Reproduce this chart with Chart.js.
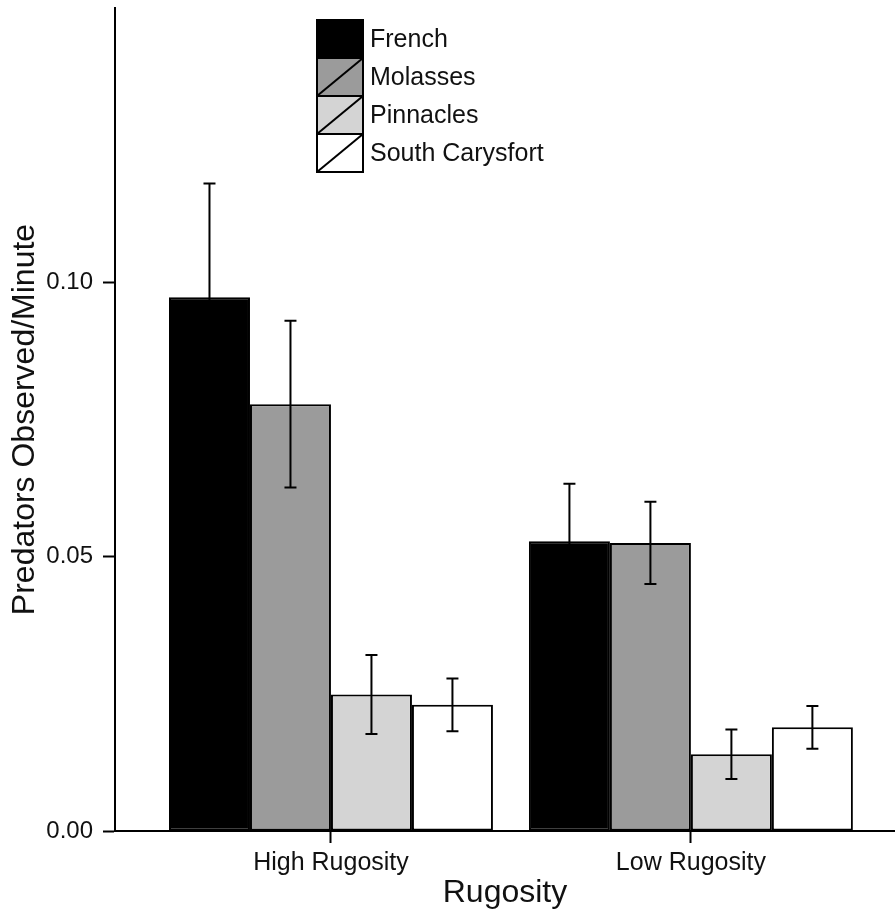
<!DOCTYPE html>
<html>
<head>
<meta charset="utf-8">
<script src="https://cdn.jsdelivr.net/npm/chart.js@4.4.1/dist/chart.umd.min.js"></script>
<style>
  html, body { margin: 0; padding: 0; background: #fff; }
  #wrap { width: 895px; height: 916px; position: relative; }
</style>
</head>
<body>
<div id="wrap"><canvas id="predChart"></canvas></div>
<script>
// Data
const categories = ["High Rugosity", "Low Rugosity"];
const sites = ["French", "Molasses", "Pinnacles", "South Carysfort"];
const french = [0.0973, 0.0528];
const molasses = [0.0778, 0.0525];
const pinnacles = [0.0249, 0.0140];
const southCarysfort = [0.0230, 0.0189];
// standard errors (half the whisker length)
const frenchErr = [0.0207, 0.0105];
const molassesErr = [0.0152, 0.0075];
const pinnaclesErr = [0.0072, 0.0045];
const southCarysfortErr = [0.0048, 0.0039];
const yTicks = [0, 0.05, 0.10];

const FONT = "'Liberation Sans', Arial, Helvetica, sans-serif";
const fills = ["#000000", "#9b9b9b", "#d4d4d4", "#ffffff"];
const seriesValues = [french, molasses, pinnacles, southCarysfort];
const seriesErrors = [frenchErr, molassesErr, pinnaclesErr, southCarysfortErr];

function makeDataset(i) {
    return {
        label: sites[i],
        data: seriesValues[i].map((v, j) => ({ x: j + 1, y: v })),
        errors: seriesErrors[i],
        backgroundColor: fills[i],
        borderColor: "#000",
        borderWidth: 2,
        borderSkipped: false,
        categoryPercentage: 0.9,
        barPercentage: 1.0,
    };
}

// Error bars drawn through the y scale
const errorBars = {
    id: "errorBars",
    afterDatasetsDraw(chart) {
        const ctx = chart.ctx;
        const y = chart.scales.y;
        ctx.save();
        ctx.strokeStyle = "#000";
        ctx.lineWidth = 2;
        chart.data.datasets.forEach((ds, di) => {
            const meta = chart.getDatasetMeta(di);
            meta.data.forEach((bar, i) => {
                const v = ds.data[i].y;
                const e = ds.errors[i];
                const top = y.getPixelForValue(v + e);
                const bot = y.getPixelForValue(v - e);
                const half = 6;
                ctx.beginPath();
                ctx.moveTo(bar.x, top);
                ctx.lineTo(bar.x, bot);
                ctx.moveTo(bar.x - half, top);
                ctx.lineTo(bar.x + half, top);
                ctx.moveTo(bar.x - half, bot);
                ctx.lineTo(bar.x + half, bot);
                ctx.stroke();
            });
        });
        ctx.restore();
    },
};

// Legend box inside the plot, ggplot-style keys with a diagonal stroke
const insideLegend = {
    id: "insideLegend",
    afterDraw(chart) {
        const ctx = chart.ctx;
        const area = chart.chartArea;
        const x0 = area.left + 202;
        const y0 = area.top + 12;
        const w = 46, h = 38;
        ctx.save();
        ctx.font = "25px " + FONT;
        ctx.textBaseline = "middle";
        ctx.textAlign = "left";
        chart.data.datasets.forEach((ds, i) => {
            const top = y0 + i * h;
            ctx.fillStyle = ds.backgroundColor;
            ctx.fillRect(x0, top, w, h);
            ctx.strokeStyle = "#000";
            ctx.lineWidth = 2;
            ctx.strokeRect(x0, top, w, h);
            ctx.beginPath();
            ctx.moveTo(x0, top + h);
            ctx.lineTo(x0 + w, top);
            ctx.stroke();
            ctx.fillStyle = "#111";
            ctx.fillText(ds.label, x0 + w + 7, top + h / 2 + 1);
        });
        ctx.restore();
    },
};

const ctx = document.getElementById("predChart").getContext("2d");
new Chart(ctx, {
    type: "bar",
    data: { datasets: [0, 1, 2, 3].map(makeDataset) },
    options: {
        responsive: true,
        maintainAspectRatio: false,
        animation: false,
        layout: { padding: { top: 8, right: 0, bottom: 0, left: 0 } },
        plugins: {
            legend: { display: false },
            tooltip: { enabled: false },
        },
        scales: {
            x: {
                type: "linear",
                min: 0.4,
                max: 2.567,
                offset: false,
                afterBuildTicks: (scale) => {
                    scale.ticks = categories.map((c, i) => ({ value: i + 1 }));
                },
                afterFit: (scale) => {
                    scale.height = 85;
                    scale.paddingLeft = 0;
                    scale.paddingRight = 0;
                },
                ticks: {
                    autoSkip: false,
                    maxRotation: 0,
                    padding: 5,
                    color: "#111",
                    font: { family: FONT, size: 25 },
                    callback: (v) => categories[v - 1],
                },
                grid: {
                    offset: false,
                    drawOnChartArea: false,
                    tickLength: 12,
                    tickColor: "#000",
                    tickWidth: 2,
                },
                border: { display: true, color: "#000", width: 2 },
                title: {
                    display: true,
                    text: "Rugosity",
                    color: "#111",
                    font: { family: FONT, size: 32 },
                    padding: { top: 0, bottom: 4 },
                },
            },
            y: {
                min: 0,
                max: 0.15,
                afterBuildTicks: (scale) => {
                    scale.ticks = yTicks.map((v) => ({ value: v }));
                },
                afterFit: (scale) => {
                    scale.width = 115;
                    scale.paddingTop = 0;
                    scale.paddingBottom = 0;
                },
                ticks: {
                    padding: 10,
                    color: "#111",
                    font: { family: FONT, size: 24 },
                    callback: (v) => v.toFixed(2),
                },
                grid: {
                    drawOnChartArea: false,
                    tickLength: 12,
                    tickColor: "#000",
                    tickWidth: 2,
                },
                border: { display: true, color: "#000", width: 2 },
                title: {
                    display: true,
                    text: "Predators Observed/Minute",
                    color: "#111",
                    font: { family: FONT, size: 32 },
                    padding: { top: 6, bottom: 0 },
                },
            },
        },
    },
    plugins: [errorBars, insideLegend],
});
</script>
</body>
</html>
